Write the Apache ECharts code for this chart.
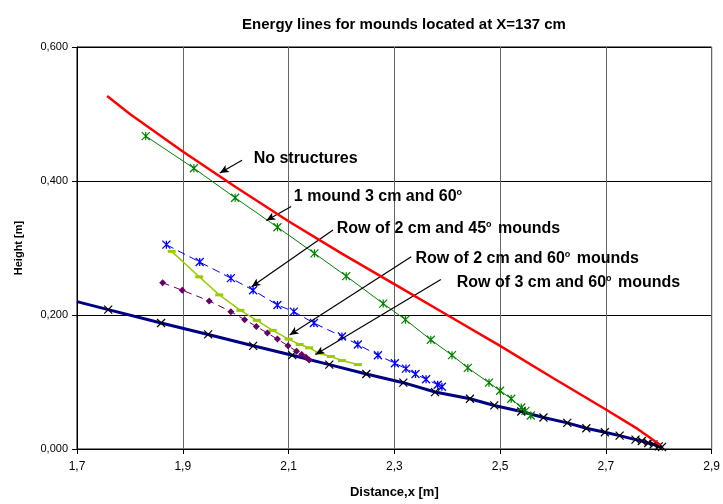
<!DOCTYPE html>
<html>
<head>
<meta charset="utf-8">
<script src="https://cdn.jsdelivr.net/npm/echarts@6/dist/echarts.min.js"></script>
<style>
  html, body { margin: 0; padding: 0; background: #fff; }
  #chart { width: 723px; height: 504px; }
</style>
</head>
<body>
<div id="chart"></div>
<script>
// energy lines, [distance m, height m]
const noStructures = [
  [1.757, 0.527], [1.8, 0.500], [1.9, 0.444], [2.0, 0.391], [2.1, 0.340],
  [2.2, 0.292], [2.3, 0.246], [2.4, 0.200], [2.5, 0.154], [2.6, 0.106],
  [2.7, 0.059], [2.76, 0.030], [2.803, 0.006]
]
const oneMound = [
  [1.830, 0.467], [1.921, 0.419], [1.999, 0.375], [2.079, 0.331], [2.149, 0.292],
  [2.209, 0.258], [2.279, 0.217], [2.321, 0.193], [2.369, 0.163], [2.409, 0.140],
  [2.439, 0.121], [2.479, 0.099], [2.500, 0.087], [2.521, 0.075], [2.540, 0.062],
  [2.548, 0.057], [2.558, 0.050]
]
const row2cm45 = [
  [1.869, 0.305], [1.932, 0.279], [1.991, 0.255], [2.033, 0.237], [2.079, 0.215],
  [2.110, 0.205], [2.148, 0.188], [2.201, 0.168], [2.231, 0.156], [2.269, 0.140],
  [2.301, 0.128], [2.322, 0.120], [2.340, 0.112], [2.360, 0.104], [2.382, 0.096],
  [2.390, 0.093]
]
const row2cm60 = [
  [1.879, 0.295], [1.931, 0.257], [1.969, 0.230], [2.009, 0.207], [2.040, 0.192],
  [2.070, 0.177], [2.100, 0.164], [2.121, 0.156], [2.139, 0.151], [2.158, 0.143],
  [2.180, 0.138], [2.201, 0.132], [2.231, 0.126]
]
const row3cm60 = [
  [1.862, 0.248], [1.899, 0.237], [1.950, 0.221], [1.991, 0.205], [2.017, 0.193],
  [2.039, 0.183], [2.060, 0.173], [2.079, 0.164], [2.099, 0.154], [2.115, 0.146],
  [2.125, 0.141], [2.133, 0.137], [2.139, 0.133]
]
const baseLine = [
  [1.700, 0.220], [1.759, 0.208], [1.859, 0.188], [1.948, 0.171], [2.033, 0.154],
  [2.107, 0.140], [2.177, 0.126], [2.247, 0.112], [2.317, 0.099], [2.377, 0.085],
  [2.443, 0.075], [2.489, 0.065], [2.540, 0.056], [2.582, 0.047], [2.627, 0.039],
  [2.663, 0.031], [2.698, 0.025], [2.726, 0.020], [2.756, 0.014], [2.768, 0.012],
  [2.780, 0.009], [2.790, 0.007], [2.800, 0.004], [2.806, 0.003]
]

// annotations: label text, text anchor, arrow start, arrow tip
const notes = [
  { text: 'No structures', at: [2.034, 0.433], from: [2.012, 0.431], to: [1.970, 0.412] },
  { text: '1 mound 3 cm and 60{s|o}', at: [2.110, 0.376], from: [2.105, 0.362], to: [2.058, 0.341] },
  { text: 'Row of 2 cm and 45{s|o} mounds', at: [2.191, 0.329], from: [2.184, 0.327], to: [2.030, 0.242] },
  { text: 'Row of 2 cm and 60{s|o} mounds', at: [2.340, 0.284], from: [2.332, 0.287], to: [2.102, 0.170] },
  { text: 'Row of 3 cm and 60{s|o} mounds', at: [2.418, 0.248], from: [2.388, 0.253], to: [2.151, 0.141] }
]

const starPath = 'path://M0,0L10,10M10,0L0,10M5,0L5,10'
const crossPath = 'path://M0,0L10,10M10,0L0,10'
const comma = (v, d) => v.toFixed(d).replace('.', ',')

const chart = echarts.init(document.getElementById('chart'))

const option = {
  animation: false,
  backgroundColor: '#fff',
  title: {
    text: 'Energy lines for mounds located at X=137 cm',
    left: 399,
    top: 12,
    textAlign: 'center',
    textStyle: { fontFamily: 'Liberation Sans', fontSize: 15, fontWeight: 'bold', color: '#000' }
  },
  grid: {
    left: 77, right: 10, top: 47, bottom: 53,
    show: true, borderColor: '#000', borderWidth: 1
  },
  xAxis: {
    type: 'value',
    min: 1.7, max: 2.9, interval: 0.2,
    name: 'Distance,x [m]',
    nameLocation: 'middle',
    nameGap: 37,
    nameTextStyle: { fontFamily: 'Liberation Sans', fontSize: 13, fontWeight: 'bold', color: '#000' },
    axisLine: { lineStyle: { color: '#000' } },
    axisTick: { show: true, length: 5, lineStyle: { color: '#000' } },
    axisLabel: {
      fontFamily: 'Liberation Sans', fontSize: 12, color: '#000', margin: 12,
      formatter: v => comma(v, 1)
    },
    splitLine: { show: true, lineStyle: { color: '#666', width: 1 } }
  },
  yAxis: {
    type: 'value',
    min: 0, max: 0.6, interval: 0.2,
    name: 'Height [m]',
    nameLocation: 'middle',
    nameGap: 53,
    nameTextStyle: { fontFamily: 'Liberation Sans', fontSize: 11, fontWeight: 'bold', color: '#000' },
    axisLine: { show: true, lineStyle: { color: '#000' } },
    axisTick: { show: true, length: 5, lineStyle: { color: '#000' } },
    axisLabel: {
      fontFamily: 'Liberation Sans', fontSize: 11, color: '#000', margin: 9,
      formatter: v => comma(v, 3)
    },
    splitLine: { show: true, lineStyle: { color: '#000', width: 1 } }
  },
  series: [
    {
      name: 'No structures', type: 'line', data: noStructures,
      showSymbol: false, symbol: 'none',
      lineStyle: { color: '#ff0000', width: 2.5 }, z: 5
    },
    {
      name: '1 mound 3 cm and 60', type: 'line', data: oneMound,
      symbol: starPath, symbolSize: 8,
      lineStyle: { color: '#008000', width: 1 },
      itemStyle: { color: 'none', borderColor: '#008000', borderWidth: 1.2 }, z: 4
    },
    {
      name: 'Row of 2 cm and 45 mounds', type: 'line', data: row2cm45,
      symbol: starPath, symbolSize: 8,
      lineStyle: { color: '#0000ff', width: 1, type: [8, 5] },
      itemStyle: { color: 'none', borderColor: '#0000ff', borderWidth: 1.3 }, z: 4
    },
    {
      name: 'Row of 2 cm and 60 mounds', type: 'line', data: row2cm60,
      symbol: 'rect', symbolSize: [8, 3],
      lineStyle: { color: '#99cc00', width: 1.5 },
      itemStyle: { color: '#99cc00' }, z: 4
    },
    {
      name: 'Row of 3 cm and 60 mounds', type: 'line', data: row3cm60,
      symbol: 'diamond', symbolSize: 7,
      lineStyle: { color: '#660066', width: 1, type: [7, 5] },
      itemStyle: { color: '#660066' }, z: 4
    },
    {
      name: 'base', type: 'line',
      data: baseLine.map((p, i) => i === 0 ? { value: p, symbol: 'none' } : p),
      symbol: crossPath, symbolSize: 8,
      lineStyle: { color: '#000080', width: 3 },
      itemStyle: { color: 'none', borderColor: '#000', borderWidth: 1.2 }, z: 3
    },
    {
      name: 'arrows', type: 'line', data: [], silent: true,
      markLine: {
        silent: true,
        symbol: ['none', 'arrow'],
        symbolSize: [6, 9],
        label: { show: false },
        lineStyle: { color: '#000', width: 1.2, type: 'solid' },
        data: notes.map(n => [{ coord: n.from }, { coord: n.to }])
      }
    }
  ]
}

chart.setOption(option)

// place annotation texts through the axis scales
chart.setOption({
  graphic: notes.map(n => {
    const p = chart.convertToPixel({ gridIndex: 0 }, n.at)
    return {
      type: 'text', x: p[0], y: p[1], z: 10,
      style: {
        text: n.text,
        fontFamily: 'Liberation Sans', fontSize: 16, fontWeight: 'bold', fill: '#000',
        verticalAlign: 'middle',
        rich: {
          s: { fontFamily: 'Liberation Sans', fontSize: 9, fontWeight: 'bold', padding: [0, 2, 9, 0] }
        }
      }
    }
  })
})
</script>
</body>
</html>
